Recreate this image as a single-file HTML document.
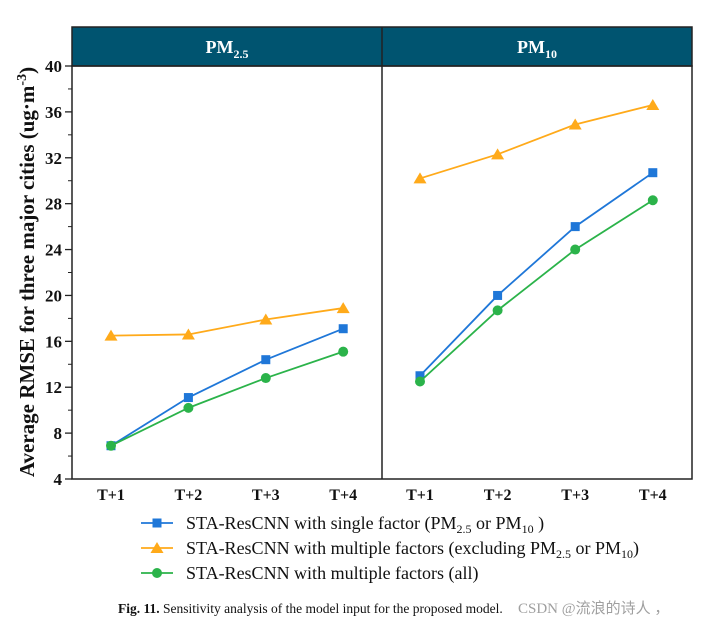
<!DOCTYPE html>
<html><head><meta charset="utf-8"><style>
body{margin:0;background:#fff;width:717px;height:629px;overflow:hidden}
svg text{font-family:"Liberation Serif",serif}
</style></head><body>
<svg id="c" width="717" height="629" xmlns="http://www.w3.org/2000/svg"></svg>
<script>
const categories=["T+1","T+2","T+3","T+4"];
const yTicks=[4,8,12,16,20,24,28,32,36,40];
const pm25Single=[6.9,11.1,14.4,17.1];
const pm25Excl=[16.5,16.6,17.9,18.9];
const pm25All=[6.9,10.2,12.8,15.1];
const pm10Single=[13.0,20.0,26.0,30.7];
const pm10Excl=[30.2,32.3,34.9,36.6];
const pm10All=[12.5,18.7,24.0,28.3];

const NS="http://www.w3.org/2000/svg";
const svg=document.getElementById('c');
function mk(t,a,p){const e=document.createElementNS(NS,t);for(const k in a)e.setAttribute(k,a[k]);(p||svg).appendChild(e);return e;}
const pTop=66,pBot=479,L=72,R=692,mid=382;
const yS=v=>pBot-(v-4)/(40-4)*(pBot-pTop);
const xL=i=>111+i*77.4, xR=i=>420+i*77.6;

let e=mk('rect',{x:L,y:27,width:R-L,height:pTop-27,fill:'#005470',stroke:'#222','stroke-width':1.5});


e=mk('text',{x:227,y:53,'text-anchor':'middle','font-size':18,'font-weight':'bold',fill:'#fff'});
e.innerHTML='PM<tspan font-size="12" dy="5">2.5</tspan>';


e=mk('text',{x:537,y:53,'text-anchor':'middle','font-size':18,'font-weight':'bold',fill:'#fff'});
e.innerHTML='PM<tspan font-size="12" dy="5">10</tspan>';


e=mk('rect',{x:L,y:pTop,width:R-L,height:pBot-pTop,fill:'none',stroke:'#222','stroke-width':1.5});


e=mk('line',{x1:mid,y1:27,x2:mid,y2:pBot,stroke:'#222','stroke-width':1.5});



yTicks.forEach((v,i)=>{
  mk('line',{x1:L-7,x2:L,y1:yS(v),y2:yS(v),stroke:'#222','stroke-width':1.3});
  if(i<yTicks.length-1) mk('line',{x1:L-4,x2:L,y1:yS(v+2),y2:yS(v+2),stroke:'#222','stroke-width':1});
  const t=mk('text',{x:62,y:yS(v)+6,'text-anchor':'end','font-size':17,'font-weight':'bold',fill:'#111'});
  t.textContent=v;
  
  
});
e=mk('text',{transform:'translate(34,272) rotate(-90)','text-anchor':'middle','font-size':21,'font-weight':'bold',fill:'#111'});
e.innerHTML='Average RMSE for three major cities (ug·m<tspan font-size="14" dy="-8">-3</tspan><tspan dy="8">)</tspan>';



categories.forEach((c,i)=>{
  [xL(i),xR(i)].forEach(x=>{
    const t=mk('text',{x:x,y:500,'text-anchor':'middle','font-size':16,'font-weight':'bold',fill:'#111'});
    t.textContent=c;
    
    
  });
});

const blue='#1f77d8',orange='#ffaa1a',green='#2bb34a';
function marker(type,x,yy,col,p){
  if(type==='sq') return mk('rect',{x:x-4.5,y:yy-4.5,width:9,height:9,fill:col},p);
  if(type==='tri') return mk('polygon',{points:`${x},${yy-6} ${x-6.5},${yy+5} ${x+6.5},${yy+5}`,fill:col},p);
  return mk('circle',{cx:x,cy:yy,r:5,fill:col},p);
}
function series(vals,xf,col,type,name){
  const p=mk('polyline',{points:vals.map((v,i)=>xf(i)+','+yS(v)).join(' '),fill:'none',stroke:col,'stroke-width':1.8});
  
  
  vals.forEach((v,i)=>{const m=marker(type,xf(i),yS(v),col);
    
    });
}
series(pm25Excl,xL,orange,'tri','pm25-multiple-excl');
series(pm25Single,xL,blue,'sq','pm25-single');
series(pm25All,xL,green,'ci','pm25-multiple-all');
series(pm10Excl,xR,orange,'tri','pm10-multiple-excl');
series(pm10Single,xR,blue,'sq','pm10-single');
series(pm10All,xR,green,'ci','pm10-multiple-all');

const leg=[[blue,'sq','STA-ResCNN with single factor (PM<tspan font-size="12" dy="4">2.5</tspan><tspan dy="-4"> or PM</tspan><tspan font-size="12" dy="4">10</tspan><tspan dy="-4"> )</tspan>'],
[orange,'tri','STA-ResCNN with multiple factors (excluding PM<tspan font-size="12" dy="4">2.5</tspan><tspan dy="-4"> or PM</tspan><tspan font-size="12" dy="4">10</tspan><tspan dy="-4">)</tspan>'],
[green,'ci','STA-ResCNN with multiple factors (all)']];
leg.forEach((l,i)=>{
  const yy=523+i*25;
  const g=mk('g',{});
  
  
  mk('line',{x1:141,x2:173,y1:yy,y2:yy,stroke:l[0],'stroke-width':1.8},g);
  marker(l[1],157,yy,l[0],g);
  const t=mk('text',{x:186,y:yy+6,'font-size':18,fill:'#111'},g);t.innerHTML=l[2];
});
e=mk('text',{x:118,y:613,'font-size':13.5,fill:'#111'});
e.innerHTML='<tspan font-weight="bold">Fig. 11.</tspan> Sensitivity analysis of the model input for the proposed model.';


e=mk('text',{x:518,y:613,'font-size':15,fill:'#888','font-family':'"Liberation Sans","Noto Sans CJK SC",sans-serif',opacity:0.8});
e.textContent='CSDN @流浪的诗人 ，';


</script>
</body></html>
